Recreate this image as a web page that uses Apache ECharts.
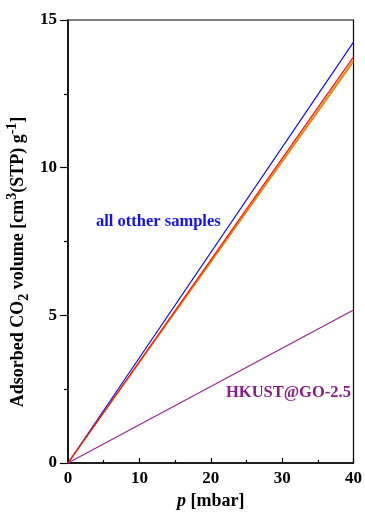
<!DOCTYPE html>
<html>
<head>
<meta charset="utf-8">
<script src="https://cdn.jsdelivr.net/npm/echarts@6/dist/echarts.min.js"></script>
<style>html,body{margin:0;padding:0;background:#fff}#c{width:365px;height:515px}</style>
</head>
<body>
<div id="c"></div>
<script>
// Data
const pressure = [0, 40];
const sampleBlue = [0, 14.25];
const sampleRed = [0, 13.75];
const sampleOrange = [0, 13.65];
const sampleDarkOrange = [0, 13.58];
const hkustGO25 = [0, 5.18];
const xTicks = [0, 10, 20, 30, 40];
const yTicks = [0, 5, 10, 15];

const FONT = '"Liberation Serif", "Times New Roman", serif';
const chart = echarts.init(document.getElementById('c'));
function pairs(ys) { return pressure.map((x, i) => [x, ys[i]]); }
function line(name, ys, color) {
  return { name, type: 'line', data: pairs(ys), showSymbol: false, symbol: 'none',
    lineStyle: { color, width: 1.1 }, itemStyle: { color }, animation: false, z: 3 };
}
chart.setOption({
  animation: false,
  grid: { left: 68, right: 7, top: 20, bottom: 52, show: true, borderColor: '#000', borderWidth: 1.2, backgroundColor: 'transparent' },
  xAxis: {
    type: 'value', min: xTicks[0], max: xTicks[xTicks.length - 1], interval: 10,
    axisLine: { lineStyle: { color: '#000', width: 1.5 } },
    axisTick: { inside: true, length: 5, lineStyle: { color: '#000', width: 1.2 } },
    minorTick: { show: true, splitNumber: 2, length: 3, lineStyle: { color: '#000', width: 1.2 } },
    splitLine: { show: false },
    axisLabel: { color: '#000', fontFamily: FONT, fontWeight: 'bold', fontSize: 17, margin: 7 },
    name: '{i|p} [mbar]', nameLocation: 'middle', nameGap: 25,
    nameTextStyle: { color: '#000', fontFamily: FONT, fontWeight: 'bold', fontSize: 18,
      rich: { i: { fontStyle: 'italic', fontWeight: 'bold', fontFamily: FONT, fontSize: 18, color: '#000' } } }
  },
  yAxis: {
    type: 'value', min: yTicks[0], max: yTicks[yTicks.length - 1], interval: 5,
    axisLine: { show: true, lineStyle: { color: '#000', width: 1.5 } },
    axisTick: { show: true, inside: false, length: 8, lineStyle: { color: '#000', width: 1.2 } },
    minorTick: { show: true, splitNumber: 2, length: 4, lineStyle: { color: '#000', width: 1.2 } },
    splitLine: { show: false },
    axisLabel: { color: '#000', fontFamily: FONT, fontWeight: 'bold', fontSize: 17, margin: 11 }
  },
  series: [
    line('blue', sampleBlue, '#0000ff'),
    line('darkorange', sampleDarkOrange, '#c88400'),
    line('orange', sampleOrange, '#ff8000'),
    line('red', sampleRed, '#ff0000'),
    line('HKUST@GO-2.5', hkustGO25, '#9a1f9a')
  ],
  graphic: [
    { type: 'text', left: 96, top: 213, style: { text: 'all otther samples', fill: '#1010ff', font: 'bold 16.5px ' + FONT } },
    { type: 'text', left: 226, top: 384, style: { text: 'HKUST@GO-2.5', fill: '#8b1a8b', font: 'bold 16.5px ' + FONT } },
    { type: 'text', x: 18, y: 262, rotation: Math.PI / 2,
      style: {
        text: 'Adsorbed CO{sub|2} volume [cm{sup|3}(STP) g{sup|-1}]',
        align: 'center', verticalAlign: 'middle', fill: '#000',
        font: 'bold 18px ' + FONT, lineHeight: 26,
        rich: {
          sub: { fontSize: 14, fontWeight: 'bold', fontFamily: FONT, verticalAlign: 'bottom', lineHeight: 14, fill: '#000' },
          sup: { fontSize: 14, fontWeight: 'bold', fontFamily: FONT, verticalAlign: 'top', lineHeight: 14, fill: '#000' }
        }
      } }
  ]
});
</script>
</body>
</html>
